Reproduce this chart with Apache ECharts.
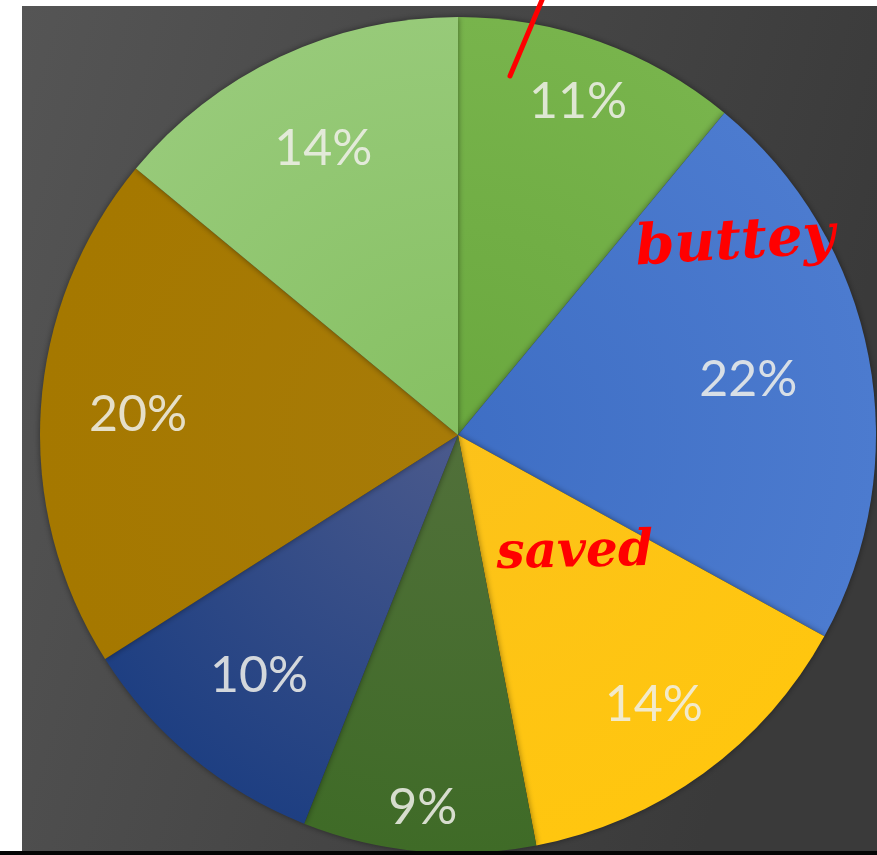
<!DOCTYPE html>
<html>
<head>
<meta charset="utf-8">
<script src="https://cdn.jsdelivr.net/npm/echarts@6/dist/echarts.min.js"></script>
<style>
html,body{margin:0;padding:0;background:#fff;}
#chart{width:877px;height:855px;}
</style>
</head>
<body>
<div id="chart"></div>
<script>
// Data (clockwise from 12 o'clock)
const categories = ['A', 'B', 'C', 'D', 'E', 'F', 'G'];
const values = [11, 22, 14, 9, 10, 20, 14];
const annotations = ['buttey', 'saved'];

// Layout: pie geometry and per-slice label distance (fraction of radius)
const CX = 458, CY = 435, R = 418;
const labelDist = [0.84, 0.70, 0.79, 0.89, 0.74, 0.76, 0.75];

function radial(inner, outer) {
  return {type: 'radial', x: CX, y: CY, r: R, global: true,
    colorStops: [{offset: 0, color: inner}, {offset: 1, color: outer}]};
}
const sliceColors = [
  radial('#6aa83e', '#78b44c'),
  radial('#3e6ec4', '#4c7bcf'),
  radial('#fcc21a', '#ffc60f'),
  radial('#51703a', '#3f6b27'),
  radial('#4b5a8c', '#1e3f82'),
  radial('#a77b08', '#a57800'),
  radial('#86c062', '#97ca79')
];

const chart = echarts.init(document.getElementById('chart'), null, {renderer: 'canvas'});
const pieData = categories.map((c, i) => ({name: c, value: values[i], itemStyle: {color: sliceColors[i]}}));

const series = [{
  type: 'pie',
  center: [CX, CY],
  radius: [0, R],
  startAngle: 90,
  clockwise: true,
  silent: true,
  label: {show: false},
  labelLine: {show: false},
  itemStyle: {borderWidth: 0, shadowBlur: 6, shadowColor: 'rgba(0,0,0,0.45)'},
  data: pieData
}];

// One transparent ring per label so each label sits at its own distance
categories.forEach((c, k) => {
  const r0 = Math.max(0, (2 * labelDist[k] - 1) * R);
  series.push({
    type: 'pie',
    center: [CX, CY],
    radius: [r0, R],
    startAngle: 90,
    clockwise: true,
    silent: true,
    itemStyle: {color: 'rgba(0,0,0,0)'},
    labelLine: {show: false},
    label: {show: false},
    data: categories.map((n, i) => ({
      name: n, value: values[i],
      label: {
        show: i === k,
        position: 'inside',
        formatter: '{c}%',
        color: 'rgba(240,240,234,0.86)',
        fontFamily: 'Lato',
        fontSize: 50
      }
    }))
  });
});

chart.setOption({
  animation: false,
  backgroundColor: '#ffffff',
  graphic: [
    {type: 'rect', z: -10, shape: {x: 22, y: 6, width: 855, height: 846},
      style: {fill: {type: 'linear', x: 0, y: 0, x2: 1, y2: 0.3,
        colorStops: [{offset: 0, color: '#555555'}, {offset: 1, color: '#3a3a3a'}]}}},
    {type: 'rect', z: 100, shape: {x: 0, y: 851, width: 877, height: 4}, style: {fill: '#050505'}},
    {type: 'line', z: 100, shape: {x1: 510, y1: 76, x2: 542, y2: 0},
      style: {stroke: '#ff0000', lineWidth: 5, lineCap: 'round'}},
    {type: 'text', z: 100, x: 634, y: 222, rotation: 0.06,
      style: {text: annotations[0], fill: '#ff0000', font: 'italic bold 56px "DejaVu Serif"'}},
    {type: 'text', z: 100, x: 496, y: 530, rotation: 0.02,
      style: {text: annotations[1], fill: '#ff0000', font: 'italic bold 50px "DejaVu Serif"'}}
  ],
  series: series
});
</script>
</body>
</html>
